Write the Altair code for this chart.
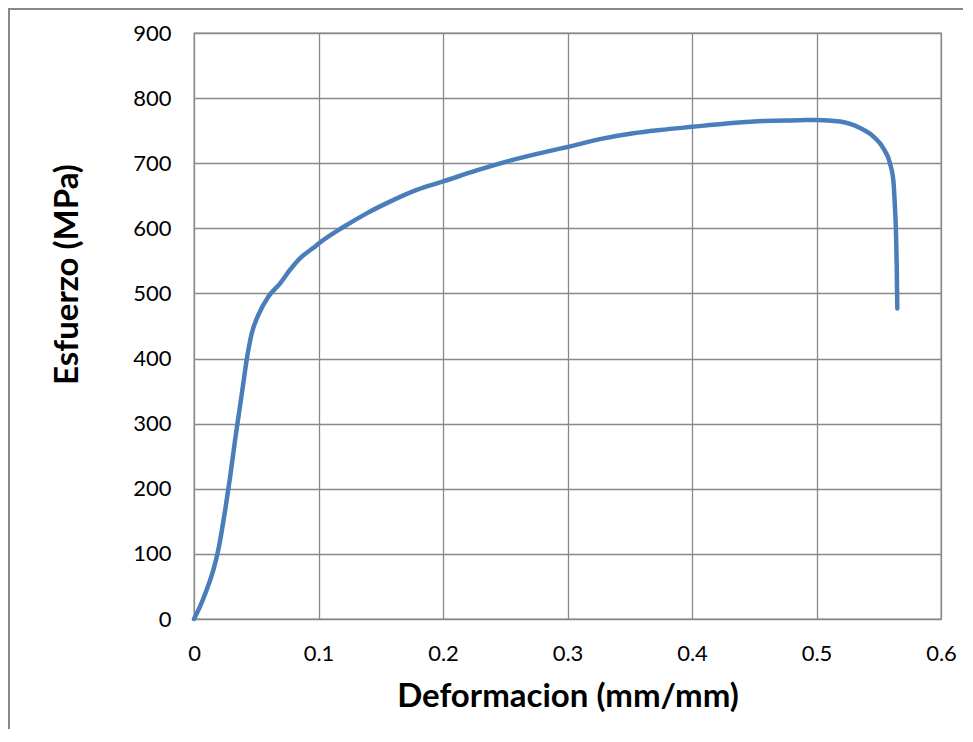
import altair as alt
import pandas as pd

strain = [0, 0.0048, 0.0102, 0.0155, 0.0195, 0.025, 0.029, 0.033, 0.0365, 0.0396,
          0.0423, 0.0464, 0.0517, 0.0597, 0.069, 0.077, 0.0851, 0.0959, 0.1004, 0.12,
          0.1387, 0.1574, 0.1789, 0.2002, 0.227, 0.2538, 0.286, 0.3001, 0.3261, 0.3529,
          0.3743, 0.4006, 0.428, 0.4574, 0.4867, 0.5, 0.519, 0.535, 0.5457, 0.5537,
          0.559, 0.5617, 0.563, 0.5638, 0.5644, 0.5649]
stress = [0, 19, 45, 75, 106, 167, 218, 275, 321, 362,
          398, 439, 467, 495, 515, 536, 554, 570, 577, 602,
          623, 641, 659, 672, 689, 704, 719, 725, 737, 746,
          751, 756, 761, 765, 766, 766.5, 764, 754, 741, 723,
          700, 674, 633, 597, 546, 477]

x_ticks = [0, 0.1, 0.2, 0.3, 0.4, 0.5, 0.6]
y_ticks = [0, 100, 200, 300, 400, 500, 600, 700, 800, 900]

df = pd.DataFrame({"strain": strain, "stress": stress, "idx": list(range(len(strain)))})

W, H = 747, 586
GRID = "#898989"

line = alt.Chart(df).mark_line(color="#4a7ebb", strokeWidth=4.5, strokeCap="round",
                               strokeJoin="round", interpolate="monotone").encode(
    x=alt.X("strain:Q", scale=alt.Scale(domain=[0, 0.6], nice=False),
            axis=alt.Axis(values=x_ticks, format="~g", title="Deformacion (mm/mm)",
                          titleY=87, titleBaseline="alphabetic", labelFlush=False,
                          labelBaseline="alphabetic", labelPadding=41)),
    y=alt.Y("stress:Q", scale=alt.Scale(domain=[0, 900], nice=False),
            axis=alt.Axis(values=y_ticks, title="Esfuerzo (MPa)",
                          titleX=-127, titleY=241, titleAngle=270,
                          titleAlign="center", titleBaseline="middle",
                          labelPadding=23, labelBaseline="middle")),
    order="idx:Q",
)

frame_left = alt.Chart(df).mark_rule(color=GRID, strokeWidth=1.3).encode(
    x=alt.value(-185.5), y=alt.value(-24.5), y2=alt.value(H + 110)
)
frame_top = alt.Chart(df).mark_rule(color=GRID, strokeWidth=1.3).encode(
    x=alt.value(-185.5), x2=alt.value(W + 22), y=alt.value(-24.5)
)

chart = alt.layer(frame_left, frame_top, line).properties(
    width=W, height=H,
    autosize=alt.AutoSizeParams(type="none"),
    padding={"left": 186, "top": 25, "right": 22, "bottom": 110},
).configure(font="Lato").configure_view(
    stroke=GRID, strokeWidth=1.3
).configure_axis(
    grid=True, gridColor=GRID, gridWidth=1.3, gridOpacity=1,
    domain=False, ticks=False, tickSize=0,
    labelFont="Lato", labelFontSize=22, labelColor="#000000",
    titleFont="Lato", titleFontSize=33, titleFontWeight="bold", titleColor="#000000",
)

chart.save("out.html", embed_options={"renderer": "svg", "actions": False})
